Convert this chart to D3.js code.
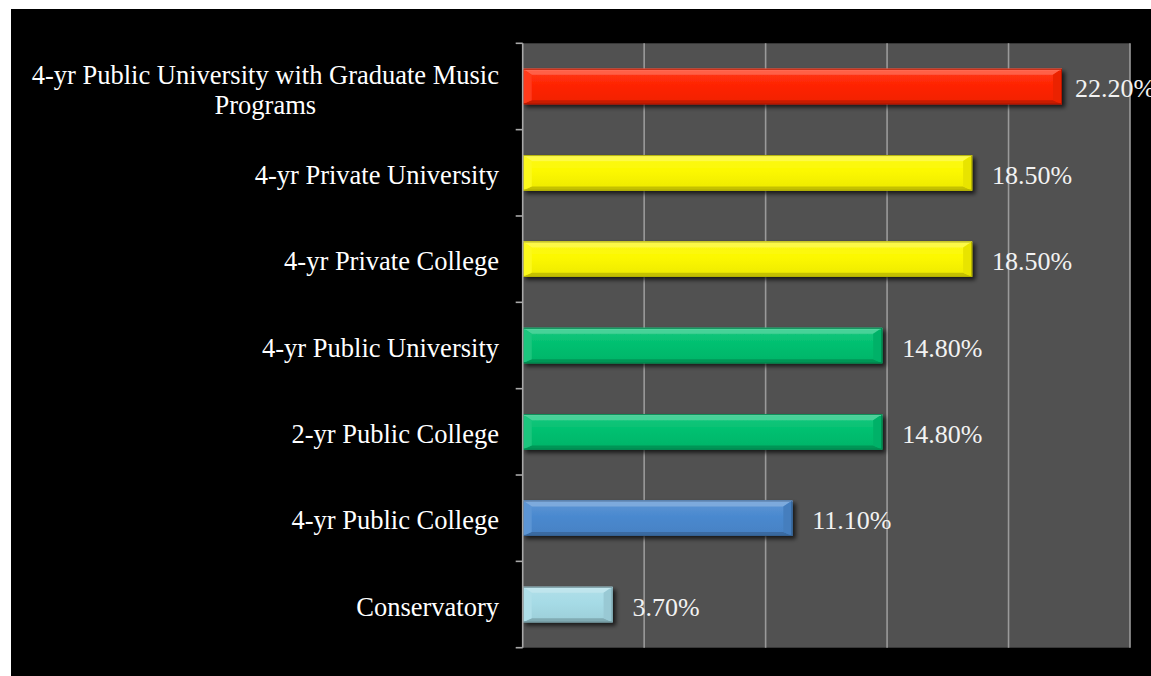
<!DOCTYPE html>
<html>
<head>
<meta charset="utf-8">
<script src="https://cdn.jsdelivr.net/npm/d3@7"></script>
<style>
  html, body { margin: 0; padding: 0; background: #ffffff; }
  svg { display: block; }
</style>
</head>
<body>
<svg id="chart" width="1151" height="676"></svg>
<script>
// Share of respondents by institution type (percent)
const categories = [
  "4-yr Public University with Graduate Music Programs",
  "4-yr Private University",
  "4-yr Private College",
  "4-yr Public University",
  "2-yr Public College",
  "4-yr Public College",
  "Conservatory"
];
const values = [22.2, 18.5, 18.5, 14.8, 14.8, 11.1, 3.7];
const gridTicks = [0, 5, 10, 15, 20, 25];

// Category labels that break onto two lines
const labelLines = {
  "4-yr Public University with Graduate Music Programs": ["4-yr Public University with Graduate Music", "Programs"]
};

const W = 1151, H = 676;
const plot = { left: 522.7, right: 1130, top: 43.3, bottom: 647.7 };

const svg = d3.select("#chart");
const FONT = "'Liberation Serif', 'Times New Roman', serif";

// Bar face colours per category
const faceColor = d3.scaleOrdinal()
  .domain(categories)
  .range(["#ff2400", "#fcf800", "#fcf800", "#00c070", "#00c070", "#4a89cf", "#a6dbe6"]);

// Background: black card inside thin white margin
svg.append("rect").attr("x", 0).attr("y", 0).attr("width", W).attr("height", H).attr("fill", "#ffffff");
svg.append("rect").attr("x", 11).attr("y", 9).attr("width", W - 11).attr("height", H - 9).attr("fill", "#000000");

const x = d3.scaleLinear().domain([0, 25]).range([plot.left, plot.right]);
const y = d3.scaleBand().domain(categories).range([plot.top, plot.bottom])
  .paddingInner(0.59).paddingOuter(0.295);

// Plot area
svg.append("rect")
  .attr("x", plot.left).attr("y", plot.top)
  .attr("width", plot.right - plot.left).attr("height", plot.bottom - plot.top)
  .attr("fill", "#515151");

// Vertical gridlines
svg.append("g")
  .selectAll("line")
  .data(gridTicks.slice(1))
  .join("line")
  .attr("x1", d => x(d)).attr("x2", d => x(d))
  .attr("y1", plot.top).attr("y2", plot.bottom)
  .attr("stroke", "#9a9a9a").attr("stroke-width", 1.6);

// Drop shadow and face gradients
const defs = svg.append("defs");
const shadow = defs.append("filter").attr("id", "barShadow")
  .attr("x", "-10%").attr("y", "-30%").attr("width", "130%").attr("height", "180%");
shadow.append("feGaussianBlur").attr("in", "SourceAlpha").attr("stdDeviation", 2.2).attr("result", "blur");
shadow.append("feOffset").attr("in", "blur").attr("dx", 2.5).attr("dy", 3).attr("result", "off");
shadow.append("feComponentTransfer").attr("in", "off").attr("result", "shade")
  .append("feFuncA").attr("type", "linear").attr("slope", 0.7);
const merge = shadow.append("feMerge");
merge.append("feMergeNode").attr("in", "shade");
merge.append("feMergeNode").attr("in", "SourceGraphic");

categories.forEach((c, i) => {
  const base = d3.color(faceColor(c));
  const g = defs.append("linearGradient").attr("id", "face" + i)
    .attr("x1", 0).attr("y1", 0).attr("x2", 0).attr("y2", 1);
  g.append("stop").attr("offset", "0%").attr("stop-color", d3.interpolateRgb(base, "#ffffff")(0.12));
  g.append("stop").attr("offset", "45%").attr("stop-color", base.formatHex());
  g.append("stop").attr("offset", "100%").attr("stop-color", d3.interpolateRgb(base, "#000000")(0.06));
});

// Bevelled bars
const bars = svg.append("g").selectAll("g.bar")
  .data(categories.map((c, i) => ({ c, v: values[i], i })))
  .join("g").attr("class", "bar")
  .attr("filter", "url(#barShadow)");

const bw = 9, bt = 6, bb = 4;
bars.each(function (d) {
  const g = d3.select(this);
  const x0 = x(0), x1 = x(d.v), y0 = y(d.c), y1 = y(d.c) + y.bandwidth();
  const base = d3.color(faceColor(d.c));
  const light = (t) => d3.interpolateRgb(base, "#ffffff")(t);
  const dark = (t) => d3.interpolateRgb(base, "#000000")(t);
  const ix0 = x0 + bw, ix1 = x1 - bw, iy0 = y0 + bt, iy1 = y1 - bb;
  const poly = (pts, fill) => g.append("polygon")
    .attr("points", pts.map(p => p.join(",")).join(" ")).attr("fill", fill);

  g.append("rect").attr("x", x0).attr("y", y0).attr("width", x1 - x0).attr("height", y1 - y0)
    .attr("fill", `url(#face${d.i})`);
  poly([[x0, y0], [x1, y0], [ix1, iy0], [ix0, iy0]], light(0.28));       // top bevel
  poly([[x0, y1], [x1, y1], [ix1, iy1], [ix0, iy1]], dark(0.22));        // bottom bevel
  poly([[x0, y0], [ix0, iy0], [ix0, iy1], [x0, y1]], light(0.1));        // left bevel
  poly([[x1, y0], [ix1, iy0], [ix1, iy1], [x1, y1]], dark(0.08));        // right bevel
  g.append("line").attr("x1", x0).attr("x2", x1).attr("y1", y0 + 0.8).attr("y2", y0 + 0.8)
    .attr("stroke", light(0.45)).attr("stroke-width", 1.4);
  g.append("rect").attr("x", x0 + 0.5).attr("y", y0 + 0.5).attr("width", x1 - x0 - 1).attr("height", y1 - y0 - 1)
    .attr("fill", "none").attr("stroke", dark(0.3)).attr("stroke-width", 1);
});

// Category axis on the left with outward ticks at band boundaries
const axisColor = "#a8a8a8";
svg.append("line")
  .attr("x1", plot.left).attr("x2", plot.left).attr("y1", plot.top).attr("y2", plot.bottom)
  .attr("stroke", axisColor).attr("stroke-width", 1.6);
const boundaries = d3.range(categories.length + 1).map(k => plot.top + k * y.step());
svg.append("g").selectAll("line")
  .data(boundaries)
  .join("line")
  .attr("x1", plot.left - 7).attr("x2", plot.left)
  .attr("y1", d => d).attr("y2", d => d)
  .attr("stroke", axisColor).attr("stroke-width", 1.6);

// Category labels
const fontSize = 26.5;
const labelRight = 499;
const baselineShift = 11;
const labels = svg.append("g")
  .attr("font-family", FONT).attr("font-size", fontSize).attr("fill", "#ffffff");
categories.forEach(c => {
  const cy = y(c) + y.bandwidth() / 2;
  const lines = labelLines[c];
  if (!lines) {
    labels.append("text").attr("x", labelRight).attr("y", cy + baselineShift)
      .attr("text-anchor", "end").text(c);
  } else {
    const probe = labels.append("text").attr("x", 0).attr("y", -100).text(lines[0]);
    const w = probe.node().getComputedTextLength();
    probe.remove();
    const mid = labelRight - w / 2;
    const lh = 30;
    lines.forEach((ln, k) => {
      labels.append("text")
        .attr("x", mid)
        .attr("y", cy + baselineShift - lh / 2 + k * lh + 1.5)
        .attr("text-anchor", "middle").text(ln);
    });
  }
});

// Value labels, kept from running past the right edge of the card
const maxLabelX = 1075;
svg.append("g")
  .attr("font-family", FONT).attr("font-size", 26).attr("fill", "#f2f2f2")
  .selectAll("text")
  .data(categories.map((c, i) => ({ c, v: values[i] })))
  .join("text")
  .attr("x", d => Math.min(x(d.v) + 20, maxLabelX))
  .attr("y", d => y(d.c) + y.bandwidth() / 2 + baselineShift)
  .text(d => d.v.toFixed(2) + "%");
</script>
</body>
</html>
